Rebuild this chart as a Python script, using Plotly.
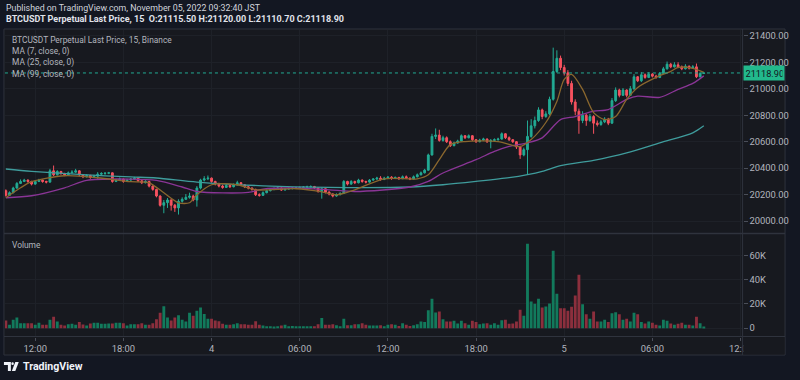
import plotly.graph_objects as go
import pandas as pd

# ---------------- data ----------------
first_open = 20230
closes = [
    20195, 20215, 20250, 20285, 20300, 20310, 20300, 20280, 20300, 20310,
    20300, 20295, 20380, 20350, 20375, 20360, 20350, 20365, 20370, 20380,
    20350, 20335, 20345, 20330, 20340, 20355, 20360, 20362, 20365, 20300,
    20310, 20318, 20300, 20310, 20318, 20325, 20305, 20290, 20300, 20265,
    20240, 20190, 20120, 20140, 20160, 20120, 20100, 20150, 20165, 20180,
    20190, 20160, 20250, 20310, 20320, 20325, 20300, 20280, 20265, 20255,
    20270, 20260, 20275, 20290, 20275, 20260, 20250, 20240, 20200, 20195,
    20215, 20230, 20238, 20245, 20250, 20235, 20242, 20246, 20250, 20252,
    20255, 20258, 20260, 20262, 20250, 20225, 20245, 20220, 20205, 20190,
    20200, 20210, 20300, 20280, 20300, 20290, 20310, 20300, 20295, 20310,
    20318, 20325, 20315, 20325, 20332, 20322, 20330, 20320, 20335, 20325,
    20318, 20335, 20350, 20365, 20385, 20500, 20640, 20650, 20610, 20630,
    20600, 20570, 20590, 20605, 20645, 20630, 20645, 20615, 20600, 20612,
    20620, 20600, 20610, 20615, 20620, 20660, 20630, 20615, 20600, 20560,
    20500, 20540, 20640, 20720, 20760, 20840, 20790, 20810, 20920, 21130,
    21230, 21160, 21120, 21040, 20900, 20830, 20760, 20800, 20760, 20790,
    20740, 20730, 20750, 20770, 20740, 20910, 20990, 20950, 20990, 20950,
    21000, 21090, 21060, 21105, 21085, 21110, 21095, 21085, 21115, 21150,
    21185, 21165, 21180, 21165, 21150, 21170, 21155, 21165, 21090, 21115.5,
    21118.9]
highs = [
    20240, 20225, 20260, 20295, 20315, 20320, 20315, 20305, 20310, 20320,
    20315, 20305, 20395, 20420, 20385, 20380, 20365, 20375, 20385, 20395,
    20385, 20355, 20355, 20350, 20350, 20370, 20370, 20370, 20372, 20368,
    20320, 20330, 20322, 20320, 20325, 20335, 20330, 20310, 20310, 20305,
    20270, 20245, 20195, 20160, 20175, 20165, 20130, 20165, 20180, 20205,
    20215, 20200, 20265, 20320, 20340, 20345, 20330, 20305, 20290, 20275,
    20280, 20275, 20285, 20305, 20295, 20280, 20265, 20255, 20245, 20210,
    20225, 20240, 20245, 20255, 20260, 20255, 20250, 20255, 20258, 20260,
    20262, 20265, 20268, 20270, 20266, 20255, 20255, 20248, 20225, 20210,
    20210, 20218, 20310, 20305, 20310, 20305, 20320, 20315, 20305, 20318,
    20325, 20335, 20340, 20335, 20340, 20340, 20338, 20335, 20345, 20345,
    20330, 20345, 20360, 20375, 20395, 20510, 20660, 20700, 20690, 20645,
    20640, 20610, 20600, 20615, 20655, 20650, 20655, 20650, 20620, 20622,
    20630, 20625, 20620, 20625, 20630, 20670, 20665, 20640, 20620, 20605,
    20570, 20555, 20760, 20770, 20790, 20860, 20850, 20830, 20940, 21310,
    21290, 21250, 21180, 21140, 21060, 20920, 20850, 20830, 20810, 20810,
    20800, 20760, 20765, 20785, 20780, 20930, 21010, 21000, 21005, 20995,
    21020, 21110, 21095, 21125, 21115, 21125, 21118, 21105, 21125, 21165,
    21205, 21195, 21200, 21200, 21175, 21185, 21175, 21178, 21190, 21125,
    21120.0]
lows = [
    20185, 20190, 20210, 20245, 20280, 20295, 20290, 20270, 20275, 20295,
    20290, 20285, 20290, 20340, 20345, 20350, 20340, 20345, 20360, 20365,
    20340, 20325, 20330, 20320, 20325, 20320, 20345, 20350, 20355, 20290,
    20295, 20305, 20290, 20295, 20305, 20312, 20295, 20280, 20285, 20255,
    20230, 20180, 20110, 20060, 20100, 20080, 20070, 20050, 20140, 20160,
    20170, 20150, 20110, 20240, 20300, 20310, 20290, 20270, 20255, 20245,
    20250, 20250, 20255, 20270, 20265, 20250, 20240, 20230, 20190, 20185,
    20190, 20210, 20225, 20235, 20240, 20228, 20232, 20238, 20240, 20245,
    20248, 20250, 20252, 20255, 20244, 20215, 20170, 20210, 20195, 20180,
    20185, 20195, 20205, 20270, 20275, 20280, 20285, 20290, 20285, 20290,
    20305, 20312, 20305, 20310, 20320, 20312, 20318, 20312, 20318, 20318,
    20310, 20315, 20330, 20345, 20360, 20380, 20495, 20620, 20600, 20600,
    20590, 20560, 20565, 20585, 20600, 20620, 20625, 20605, 20590, 20595,
    20605, 20590, 20550, 20600, 20608, 20615, 20620, 20605, 20590, 20545,
    20470, 20490, 20350, 20630, 20700, 20750, 20770, 20780, 20800, 20910,
    21120, 21140, 21100, 21020, 20880, 20800, 20660, 20740, 20720, 20750,
    20660, 20715, 20720, 20740, 20725, 20735, 20900, 20935, 20945, 20935,
    20945, 20990, 21050, 21050, 21075, 21080, 21085, 21075, 21080, 21110,
    21145, 21155, 21160, 21155, 21140, 21145, 21145, 21150, 21080, 21085,
    21110.7]
volumes_k = [
    6.3, 2.8, 6.9, 8.8, 4.1, 4.1, 4.1, 4.1, 2.8, 4.4,
    2.8, 2.8, 6.9, 9.4, 5.5, 2.8, 2.2, 3.3, 3.6, 2.8,
    5.2, 3.0, 2.2, 3.9, 4.4, 4.4, 3.6, 3.6, 3.9, 3.9,
    4.4, 4.4, 4.1, 2.2, 3.3, 3.3, 3.3, 4.1, 2.8, 2.8,
    4.1, 7.4, 12.7, 18.2, 8.8, 6.3, 8.8, 10.7, 6.9, 5.5,
    12.7, 10.2, 14.3, 17.1, 11.8, 7.7, 7.7, 6.3, 5.8, 3.6,
    2.8, 2.8, 3.3, 4.1, 3.3, 3.3, 2.8, 2.8, 5.8, 2.8,
    2.2, 1.7, 1.7, 1.4, 1.7, 2.2, 2.8, 1.7, 1.9, 1.7,
    1.7, 1.7, 1.7, 1.7, 1.7, 3.3, 8.5, 2.8, 2.8, 3.3,
    2.5, 1.7, 7.7, 2.5, 2.5, 3.3, 3.3, 4.1, 2.8, 2.2,
    2.2, 2.2, 2.5, 1.7, 2.8, 3.3,
    2.8, 1.9, 4.1, 2.8, 1.9, 2.5, 3.3, 5.5, 5.2, 14.9,
    24.2, 12.9, 13.8, 7.4, 5.5, 5.5, 6.1, 3.9, 6.1, 4.1,
    2.8, 6.1, 5.2, 3.3, 3.9, 4.1, 2.8, 4.1, 2.8, 6.6,
    6.9, 3.6, 3.9, 5.5, 15.2, 10.2, 69.7, 22.0, 20.1, 24.2,
    17.1, 17.9, 20.4, 63.9, 28.4, 16.5, 16.5, 14.3, 17.6, 27.0,
    44.1, 19.8, 11.6, 7.7, 13.8, 5.5, 5.5, 6.9, 5.2, 12.4,
    13.2, 11.6, 6.9, 7.7, 5.5, 12.7, 11.6, 5.2, 3.9, 5.5,
    4.4, 2.8, 2.2, 6.9, 6.1, 3.9, 2.8, 3.6, 4.4, 2.8,
    2.8, 2.2, 9.4, 4.1, 1.1]

ma7_idx = [0, 4, 7, 16, 25, 34, 39, 43, 47, 50, 52, 56, 63, 68, 79, 86, 90, 95, 103, 112,
           115, 118, 121, 125, 134, 140, 143, 147, 150, 152, 154, 157, 160, 163, 166, 169,
           172, 177, 181, 183, 187, 190]
ma7_val = [20177, 20252, 20298, 20343, 20328, 20298, 20290, 20214, 20139, 20139, 20199, 20275,
           20275, 20237, 20245, 20222, 20199, 20237, 20320, 20320, 20350, 20464, 20578, 20601,
           20601, 20563, 20616, 20745, 20904, 21070, 21108, 20995, 20820, 20767, 20790, 20919,
           21010, 21086, 21131, 21161, 21154, 21123]
ma25_idx = [0, 7, 16, 22, 34, 41, 48, 52, 66, 70, 79, 88, 95, 110, 115, 119, 128, 133, 137, 142,
            146, 151, 155, 160, 164, 169, 172, 178, 183, 187, 190]
ma25_val = [20177, 20192, 20252, 20308, 20318, 20308, 20258, 20224, 20217, 20242, 20250, 20237,
            20224, 20258, 20300, 20364, 20464, 20527, 20565, 20591, 20629, 20767, 20790, 20830,
            20843, 20919, 20944, 20935, 20995, 21040, 21097]
ma99_idx = [0, 7, 21, 34, 41, 52, 70, 88, 110, 119, 128, 137, 142, 146, 151, 160, 169, 178, 187, 190]
ma99_val = [20394, 20376, 20351, 20334, 20326, 20295, 20267, 20255, 20258, 20275, 20300, 20328,
            20351, 20376, 20419, 20459, 20515, 20591, 20667, 20720]

price_ticks = [20000, 20200, 20400, 20600, 20800, 21000, 21200, 21400]
vol_ticks = [0, 20000, 40000, 60000]
vol_tick_text = ["0", "20K", "40K", "60K"]
time_ticks = ["2022-11-03 12:00", "2022-11-03 18:00", "2022-11-04 00:00", "2022-11-04 06:00",
              "2022-11-04 12:00", "2022-11-04 18:00", "2022-11-05 00:00", "2022-11-05 06:00",
              "2022-11-05 12:00"]
time_tick_text = ["12:00", "18:00", "4", "06:00", "12:00", "18:00", "5", "06:00", "12:00"]

times = pd.date_range("2022-11-03 10:00", periods=len(closes), freq="15min")
opens = [first_open] + closes[:-1]
opens[-1] = 21115.50
volumes = [v * 1000 for v in volumes_k]

# ---------------- style ----------------
BG = "#131722"
PANE = "#17191f"
GRID = "#1e2128"
BORDER = "#2f333d"
GREEN = "#22ab94"
RED = "#f7525f"
VGREEN = "#127a5c"
VRED = "#8c2f3d"
TXT = "#b2b5be"
FONT = "Roboto"
W, H = 800, 380


def px(x):
    return x / W


def py(y):
    return 1 - y / H


fig = go.Figure()

fig.add_trace(go.Candlestick(
    x=times, open=opens, high=highs, low=lows, close=closes,
    increasing=dict(line=dict(color=GREEN, width=1), fillcolor=GREEN),
    decreasing=dict(line=dict(color=RED, width=1), fillcolor=RED),
    whiskerwidth=0, xaxis="x", yaxis="y", showlegend=False, hoverinfo="skip"))

for idx, val, col in [(ma99_idx, ma99_val, "#3f9c9c"),
                      (ma25_idx, ma25_val, "#8a3596"),
                      (ma7_idx, ma7_val, "#8a672e")]:
    fig.add_trace(go.Scatter(
        x=[times[i] for i in idx], y=val, mode="lines",
        line=dict(color=col, width=1.3, shape="spline", smoothing=0.8),
        xaxis="x", yaxis="y", showlegend=False, hoverinfo="skip"))

vcolors = [VGREEN if c >= o else VRED for o, c in zip(opens, closes)]
fig.add_trace(go.Bar(x=times, y=volumes, marker=dict(color=vcolors, line=dict(width=0)),
                     xaxis="x2", yaxis="y2", showlegend=False, hoverinfo="skip"))

x_range = ["2022-11-03 09:56:15", "2022-11-05 12:08:24"]
axis_font = dict(family=FONT, size=9.4, color=TXT)

shapes = [
    dict(type="rect", xref="paper", yref="paper", x0=px(4), x1=px(795), y0=py(355), y1=py(29),
         fillcolor=PANE, line=dict(color=BORDER, width=1), layer="below"),
    dict(type="line", xref="paper", yref="paper", x0=px(4), x1=px(795), y0=py(233.5), y1=py(233.5),
         line=dict(color=BORDER, width=1.5), layer="above"),
    dict(type="line", xref="paper", yref="paper", x0=px(4), x1=px(795), y0=py(336.5), y1=py(336.5),
         line=dict(color=BORDER, width=1), layer="above"),
    dict(type="rect", xref="paper", yref="paper", x0=px(752.6), x1=px(794.5), y0=py(354.5), y1=py(337.2),
         fillcolor=PANE, line=dict(width=0), layer="above"),
    dict(type="line", xref="paper", yref="paper", x0=px(752), x1=px(752), y0=py(355), y1=py(29),
         line=dict(color=BORDER, width=1), layer="above"),
    dict(type="line", xref="paper", yref="y", x0=px(5), x1=px(752), y0=closes[-1], y1=closes[-1],
         line=dict(color=GREEN, width=1, dash="dot"), layer="above"),
    # TradingView logo mark
    dict(type="path", xref="paper", yref="paper",
         path=f"M {px(4)},{py(362)} L {px(11)},{py(362)} L {px(11)},{py(371)} L {px(8)},{py(371)} "
              f"L {px(8)},{py(365)} L {px(4)},{py(365)} Z",
         fillcolor="#f0f3fa", line=dict(width=0)),
    dict(type="circle", xref="paper", yref="paper", x0=px(11.5), x1=px(14), y0=py(365), y1=py(362.3),
         fillcolor="#f0f3fa", line=dict(width=0)),
    dict(type="path", xref="paper", yref="paper",
         path=f"M {px(15.5)},{py(362)} L {px(19)},{py(362)} L {px(15.5)},{py(371)} L {px(12)},{py(371)} Z",
         fillcolor="#f0f3fa", line=dict(width=0)),
]

annotations = [
    dict(text="Published on TradingView.com, November 05, 2022 09:32:40 JST", x=px(4), y=py(8),
         font=dict(family=FONT, size=8.8, color="#d1d4dc")),
    dict(text="<b>BTCUSDT Perpetual Last Price, 15  O:21115.50 H:21120.00 L:21110.70 C:21118.90</b>",
         x=px(4), y=py(19.5), font=dict(family=FONT, size=9, color="#e0e3eb")),
    dict(text="BTCUSDT Perpetual Last Price, 15, Binance", x=px(10), y=py(40),
         font=dict(family=FONT, size=8.4, color=TXT)),
    dict(text="MA (7, close, 0)", x=px(10), y=py(51.5), font=dict(family=FONT, size=8.4, color=TXT)),
    dict(text="MA (25, close, 0)", x=px(10), y=py(63), font=dict(family=FONT, size=8.4, color=TXT)),
    dict(text="MA (99, close, 0)", x=px(10), y=py(74.5), font=dict(family=FONT, size=8.4, color=TXT)),
    dict(text="Volume", x=px(10), y=py(245), font=dict(family=FONT, size=8.4, color=TXT)),
    dict(text="<b>TradingView</b>", x=px(21.5), y=py(366.5),
         font=dict(family=FONT, size=10.6, color="#f0f3fa")),
]
for a in annotations:
    a.update(xref="paper", yref="paper", xanchor="left", yanchor="middle", showarrow=False)
# last-price label box on the price scale
annotations.append(dict(text="21118.90", xref="paper", yref="y", x=px(752), y=closes[-1],
                        xanchor="left", yanchor="middle", showarrow=False, align="left",
                        width=37, height=11, borderpad=1.5, bgcolor="#22b98c",
                        font=dict(family=FONT, size=9.2, color="#131722")))

fig.update_layout(
    width=W, height=H, margin=dict(l=0, r=0, t=0, b=0),
    paper_bgcolor=BG, plot_bgcolor=PANE, showlegend=False, bargap=0.22, boxgap=0.3,
    font=dict(family=FONT, size=8, color=TXT),
    shapes=shapes, annotations=annotations,
    xaxis=dict(domain=[px(5), px(752)], anchor="y", range=x_range, type="date",
               tickvals=time_ticks, showticklabels=False, showgrid=True, gridcolor=GRID,
               zeroline=False, showline=False, rangeslider=dict(visible=False), fixedrange=True),
    yaxis=dict(domain=[py(233.5), py(29.5)], anchor="x", side="right", range=[19907, 21447],
               tickvals=price_ticks, tickformat=".2f", ticks="outside", ticklen=4,
               tickcolor="#4a4e59", tickfont=axis_font, showgrid=True, gridcolor=GRID,
               zeroline=False, showline=False),
    xaxis2=dict(domain=[px(5), px(752)], anchor="y2", range=x_range, type="date", matches="x",
                tickvals=time_ticks, ticktext=time_tick_text, ticks="outside", ticklen=3,
                tickcolor="#4a4e59", tickfont=axis_font, showgrid=True, gridcolor=GRID,
                zeroline=False, showline=False),
    yaxis2=dict(domain=[py(336.5), py(233.5)], anchor="x2", side="right", range=[-6850, 78150],
                tickvals=vol_ticks, ticktext=vol_tick_text, ticks="outside", ticklen=4,
                tickcolor="#4a4e59", tickfont=axis_font, showgrid=True, gridcolor=GRID,
                zeroline=False, showline=False),
)

fig.write_html("out.html", config={"displayModeBar": False},
               post_script="document.body.style.margin='0';"
                           "document.body.style.background='#131722';")
